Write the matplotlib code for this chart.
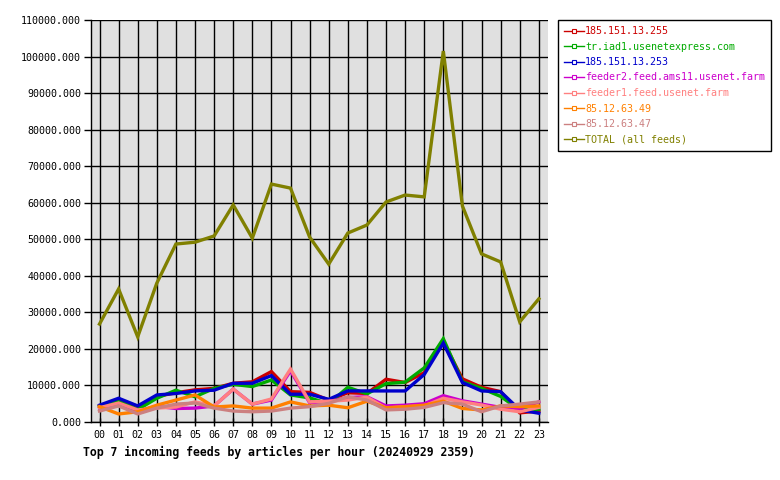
import matplotlib
matplotlib.use("Agg")
from matplotlib import pyplot as plt
from matplotlib.lines import Line2D
from matplotlib.ticker import FormatStrFormatter

hours = [f"{h:02d}" for h in range(24)]

feeds = [
    "185.151.13.255",
    "tr.iad1.usenetexpress.com",
    "185.151.13.253",
    "feeder2.feed.ams11.usenet.farm",
    "feeder1.feed.usenet.farm",
    "85.12.63.49",
    "85.12.63.47",
    "TOTAL (all feeds)",
]
colors = ["#cc0000", "#00aa00", "#0000cc", "#cc00cc", "#ff8080", "#ff8000", "#cc8080", "#808000"]

red = [4300, 6000, 3500, 7000, 8000, 8800, 9200, 10600, 11000, 13800, 8300, 8100,
       6000, 8000, 7800, 11700, 10800, 13500, 22000, 11800, 9500, 8300, 2500, 3000]
green = [4200, 5600, 3400, 6500, 8700, 6900, 9200, 10300, 9700, 11500, 7400, 6600,
         5000, 9500, 7700, 10500, 10900, 14800, 22800, 11000, 9200, 7000, 3300, 3500]
blue = [4600, 6500, 4400, 7400, 7800, 8500, 8700, 10600, 10600, 12700, 7600, 7600,
        6200, 8500, 8500, 8500, 8500, 13000, 21600, 10800, 8500, 8300, 3300, 2400]
feeder2 = [3800, 4800, 3000, 4300, 3700, 3800, 4400, 9000, 4900, 6000, 14000, 5300,
           5600, 6700, 6900, 4400, 4600, 5000, 7200, 5800, 4900, 4000, 3700, 5500]
feeder1 = [3900, 5200, 3300, 3800, 4100, 5500, 4400, 9000, 4900, 6300, 14500, 5500,
           5700, 6000, 6800, 3800, 4200, 4400, 6500, 5500, 4650, 3500, 2800, 4000]
ip49 = [4200, 2200, 2800, 4600, 6000, 7400, 4100, 4400, 3800, 3800, 5500, 4400,
        4600, 3900, 5700, 3900, 4200, 4600, 5700, 3700, 3300, 4400, 4200, 4400]
ip47 = [3000, 4400, 2200, 3800, 4900, 5200, 3800, 3000, 2800, 3000, 3800, 4200,
        5100, 6900, 6000, 3300, 3500, 4000, 5300, 4900, 2800, 4400, 4900, 5500]
total = [26800, 36400, 23300, 38000, 48700, 49200, 50900, 59400, 50300, 65100, 64000, 50600,
         43200, 51700, 53900, 60200, 62100, 61600, 101500, 59100, 46000, 43800, 27400, 33700]

series = [red, green, blue, feeder2, feeder1, ip49, ip47, total]

mono = "DejaVu Sans Mono"

fig = plt.figure(figsize=(7.8, 4.8), dpi=100)
ax = fig.add_axes([91 / 780, 58 / 480, 457 / 780, 402 / 480])
ax.set_facecolor("#e0e0e0")

x = list(range(len(hours)))
for vals, col in zip(series, colors):
    ax.plot(x, vals, color=col, lw=2.4, solid_joinstyle="miter", zorder=3)

ax.set_xlim(-0.445, 23.48)
ax.set_ylim(0, 110000)
ax.set_xticks(x)
ax.set_xticklabels(hours, fontfamily=mono, fontsize=7.2)
ax.set_yticks(range(0, 110001, 10000))
ax.yaxis.set_major_formatter(FormatStrFormatter("%.3f"))
for lab in ax.get_yticklabels():
    lab.set_fontfamily(mono)
    lab.set_fontsize(7.2)
ax.grid(True, color="black", lw=1, zorder=1)
ax.set_axisbelow(True)
ax.tick_params(axis="x", direction="inout", length=6, width=1, pad=3)
ax.tick_params(axis="y", direction="out", length=5, width=1, pad=2)
for sp in ax.spines.values():
    sp.set_linewidth(1)
ax.spines["top"].set_visible(False)
ax.spines["right"].set_visible(False)

handles = [Line2D([0], [0], color=c, lw=1, marker="s", markersize=2.5,
                  markerfacecolor="white", markeredgecolor=c, markeredgewidth=0.8)
           for c in colors]
leg = fig.legend(handles, feeds, loc="upper left",
                 bbox_to_anchor=(558 / 780, 1 - 20 / 480),
                 prop={"family": mono, "size": 7.2}, labelcolor=colors,
                 frameon=True, fancybox=False, framealpha=1, edgecolor="black",
                 handlelength=2.0, handletextpad=0.1, labelspacing=0.55,
                 borderpad=0.6, borderaxespad=0)
leg.get_frame().set_linewidth(1)

fig.text(83 / 780, 1 - 452 / 480, "Top 7 incoming feeds by articles per hour (20240929 2359)",
         fontfamily=mono, fontweight="bold", fontsize=8.3, va="center", ha="left")

fig.savefig("out.png", dpi=100)
